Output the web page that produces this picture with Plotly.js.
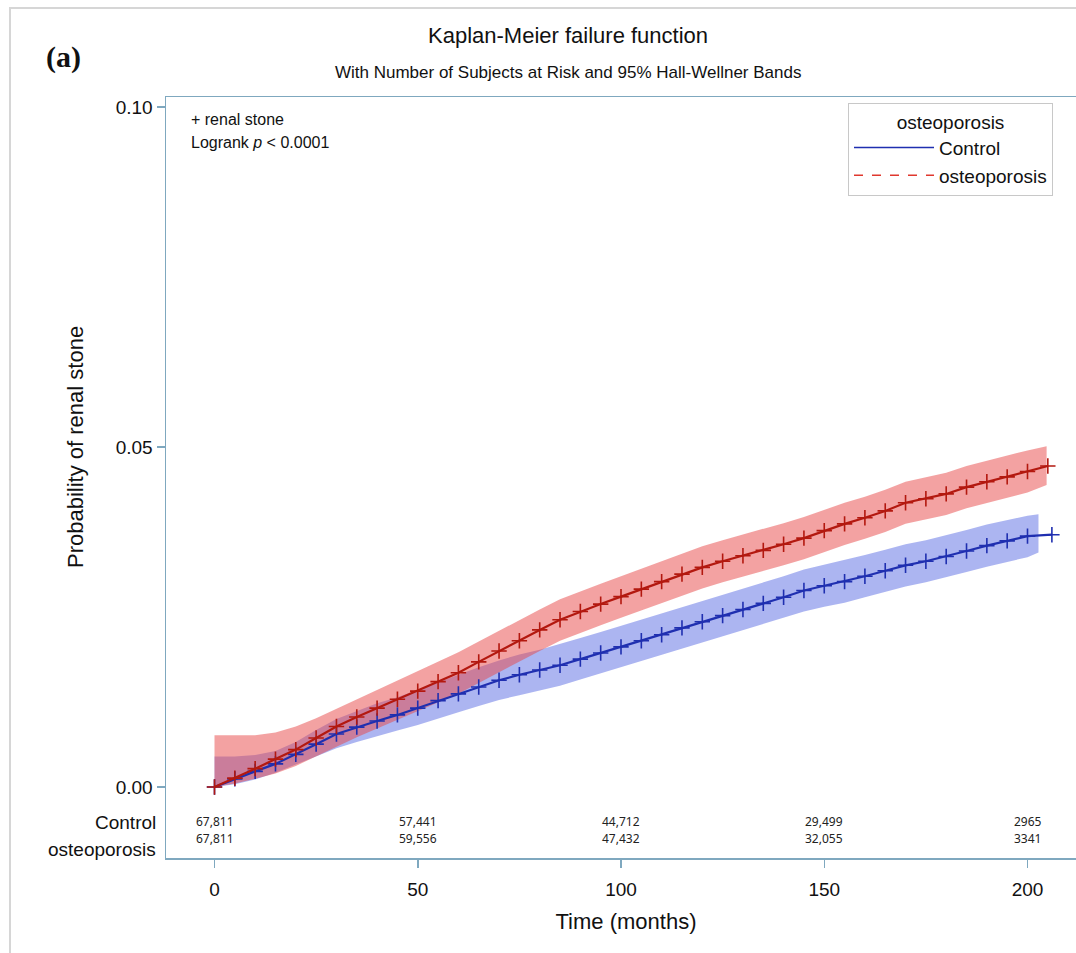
<!DOCTYPE html>
<html>
<head>
<meta charset="utf-8">
<script src="https://cdn.plot.ly/plotly-3.0.1.min.js"></script>
<style>
html,body{margin:0;padding:0;background:#fff;overflow:hidden;}
#chart{width:1090px;height:953px;}
</style>
</head>
<body>
<div id="chart"></div>
<script>
// ---- data ----
var ctlTime = [0,5,10,15,20,25,30,35,40,45,50,55,60,65,70,75,80,85,90,95,100,105,110,115,120,125,130,135,140,145,150,155,160,165,170,175,180,185,190,195,200,206];
var ctlProb = [0,0.0012,0.0023,0.0034,0.0048,0.0063,0.0078,0.0088,0.0097,0.0106,0.0116,0.0127,0.0137,0.0147,0.0157,0.0165,0.0172,0.0179,0.0188,0.0197,0.0206,0.0215,0.0224,0.0234,0.0243,0.0252,0.0261,0.0270,0.0279,0.0289,0.0296,0.0302,0.0310,0.0318,0.0326,0.0332,0.0339,0.0347,0.0355,0.0362,0.0369,0.0371];

var ostTime = [0,5,10,15,20,25,30,35,40,45,50,55,60,65,70,75,80,85,90,95,100,105,110,115,120,125,130,135,140,145,150,155,160,165,170,175,180,185,190,195,200,205];
var ostProb = [0,0.0013,0.0027,0.0041,0.0055,0.0072,0.0089,0.0103,0.0116,0.0129,0.0141,0.0155,0.0168,0.0184,0.0200,0.0215,0.0231,0.0246,0.0258,0.0269,0.0280,0.0291,0.0302,0.0313,0.0323,0.0332,0.0340,0.0348,0.0357,0.0366,0.0377,0.0387,0.0396,0.0406,0.0418,0.0424,0.0431,0.0441,0.0449,0.0456,0.0464,0.0472];

var ctlBandTime = [0,5,10,15,20,25,30,35,40,45,50,55,60,65,70,75,80,85,90,95,100,105,110,115,120,125,130,135,140,145,150,155,160,165,170,175,180,185,190,195,200,202.7];
var ctlUpper = [0.0045,0.0045,0.0047,0.0053,0.0066,0.0084,0.0100,0.0112,0.0123,0.0132,0.0143,0.0155,0.0165,0.0176,0.0186,0.0195,0.0202,0.0210,0.0219,0.0228,0.0237,0.0246,0.0255,0.0265,0.0274,0.0283,0.0292,0.0301,0.0310,0.0320,0.0327,0.0333,0.0341,0.0349,0.0357,0.0363,0.0370,0.0378,0.0386,0.0393,0.0399,0.0401];
var ctlLower = [0,0.0004,0.0011,0.0021,0.0033,0.0045,0.0057,0.0066,0.0075,0.0083,0.0091,0.0101,0.0110,0.0119,0.0128,0.0135,0.0142,0.0149,0.0158,0.0167,0.0176,0.0185,0.0194,0.0203,0.0212,0.0221,0.0230,0.0239,0.0248,0.0258,0.0265,0.0271,0.0279,0.0287,0.0295,0.0301,0.0308,0.0316,0.0324,0.0331,0.0338,0.0345];

var ostBandTime = [0,5,10,15,20,25,30,35,40,45,50,55,60,65,70,75,80,85,90,95,100,105,110,115,120,125,130,135,140,145,150,155,160,165,170,175,180,185,190,195,200,204.7];
var ostUpper = [0.0076,0.0076,0.0076,0.0080,0.0089,0.0101,0.0115,0.0129,0.0143,0.0157,0.0170,0.0184,0.0198,0.0214,0.0230,0.0245,0.0261,0.0276,0.0288,0.0299,0.0310,0.0321,0.0332,0.0343,0.0354,0.0363,0.0371,0.0379,0.0388,0.0397,0.0408,0.0418,0.0427,0.0437,0.0449,0.0455,0.0462,0.0472,0.0480,0.0488,0.0495,0.0501];
var ostLower = [0,0.0005,0.0012,0.0020,0.0031,0.0045,0.0060,0.0073,0.0086,0.0099,0.0111,0.0124,0.0137,0.0153,0.0169,0.0184,0.0200,0.0215,0.0227,0.0238,0.0249,0.0260,0.0271,0.0282,0.0292,0.0301,0.0309,0.0317,0.0326,0.0335,0.0346,0.0356,0.0365,0.0375,0.0387,0.0393,0.0400,0.0410,0.0418,0.0425,0.0433,0.0444];

var riskTimes = [0,50,100,150,200];
var riskControl = ['67,811','57,441','44,712','29,499','2965'];
var riskOsteo = ['67,811','59,556','47,432','32,055','3341'];
var groupNames = ['Control','osteoporosis'];

var xTicks = [0,50,100,150,200];
var yTicks = [0,0.05,0.10];
var yTickText = ['0.00','0.05','0.10'];

// ---- styling ----
var frameColor = '#7fa8bf';
var blue = '#1f2fb0', red = '#b3180f';
var blueFill = 'rgba(70,90,225,0.45)', redFill = 'rgba(232,70,70,0.5)';
var FONT = 'Liberation Sans, Arial, sans-serif';

var traces = [
  {x: ctlBandTime, y: ctlLower, mode:'lines', line:{width:0, color:blueFill}, showlegend:false, hoverinfo:'skip'},
  {x: ctlBandTime, y: ctlUpper, mode:'lines', line:{width:0, color:blueFill}, fill:'tonexty', fillcolor:blueFill, showlegend:false, hoverinfo:'skip'},
  {x: ostBandTime, y: ostLower, mode:'lines', line:{width:0, color:redFill}, showlegend:false, hoverinfo:'skip'},
  {x: ostBandTime, y: ostUpper, mode:'lines', line:{width:0, color:redFill}, fill:'tonexty', fillcolor:redFill, showlegend:false, hoverinfo:'skip'},
  {x: ctlTime, y: ctlProb, mode:'lines+markers', line:{color:blue, width:2.2},
   marker:{symbol:'cross-thin', size:11, line:{color:blue, width:1.6}}, showlegend:false},
  {x: ostTime, y: ostProb, mode:'lines+markers', line:{color:red, width:2.2},
   marker:{symbol:'cross-thin', size:11, line:{color:red, width:1.6}}, showlegend:false},
  // legend entries
  {x:[null], y:[null], mode:'lines', name:groupNames[0], line:{color:blue, width:1.5}},
  {x:[null], y:[null], mode:'lines', name:groupNames[1], line:{color:'#e0382e', width:1.5, dash:'dash'}}
];

// pixel helpers (plot area: x 166..1086, y 97..858)
var L = 166, R = 1086, T = 97, B = 858;
function px(xPix){ return (xPix - L) / (R - L); }
function py(yPix){ return (B - yPix) / (B - T); }
function yv(yPix){ return (787 - yPix) / 6800; }

var annotations = [
  {text:'Kaplan-Meier failure function', xref:'paper', yref:'paper', x:px(568), y:py(35), xanchor:'center', yanchor:'middle', showarrow:false, font:{family:FONT, size:22, color:'#111'}},
  {text:'With Number of Subjects at Risk and 95% Hall-Wellner Bands', xref:'paper', yref:'paper', x:px(568), y:py(72), xanchor:'center', yanchor:'middle', showarrow:false, font:{family:FONT, size:17, color:'#111'}},
  {text:'<b>(a)</b>', xref:'paper', yref:'paper', x:px(63), y:py(57), xanchor:'center', yanchor:'middle', showarrow:false, font:{family:'Liberation Serif, Times New Roman, serif', size:30, color:'#111'}},
  {text:'Probability of renal stone', xref:'paper', yref:'y', x:px(75), y:0.05, xanchor:'center', yanchor:'middle', textangle:-90, showarrow:false, font:{family:FONT, size:22, color:'#111'}},
  {text:'+ renal stone', xref:'paper', yref:'paper', x:px(189), y:py(120), xanchor:'left', yanchor:'middle', showarrow:false, font:{family:FONT, size:16, color:'#111'}},
  {text:'Logrank <i>p</i> < 0.0001', xref:'paper', yref:'paper', x:px(189), y:py(143), xanchor:'left', yanchor:'middle', showarrow:false, font:{family:FONT, size:16, color:'#111'}},
  {text:groupNames[0], xref:'paper', yref:'y', x:px(158), y:yv(822), xanchor:'right', yanchor:'middle', showarrow:false, font:{family:FONT, size:19, color:'#111'}},
  {text:groupNames[1], xref:'paper', yref:'y', x:px(158), y:yv(849), xanchor:'right', yanchor:'middle', showarrow:false, font:{family:FONT, size:19, color:'#111'}}
];
for (var i = 0; i < riskTimes.length; i++) {
  annotations.push({text:riskControl[i], x:riskTimes[i], y:yv(821), xref:'x', yref:'y', xanchor:'center', yanchor:'middle', showarrow:false, font:{family:'Noto Sans, DejaVu Sans, sans-serif', size:12, color:'#222'}});
  annotations.push({text:riskOsteo[i], x:riskTimes[i], y:yv(838), xref:'x', yref:'y', xanchor:'center', yanchor:'middle', showarrow:false, font:{family:'Noto Sans, DejaVu Sans, sans-serif', size:12, color:'#222'}});
}

var layout = {
  width:1090, height:953,
  margin:{l:L, r:1090-R, t:T, b:953-B, pad:0},
  paper_bgcolor:'#fff', plot_bgcolor:'#fff',
  font:{family:FONT, color:'#111'},
  xaxis:{
    range:[(L-214.5)/4.065, (R-214.5)/4.065],
    tickvals:xTicks, ticks:'outside', ticklen:8, tickwidth:1.5, tickcolor:frameColor,
    showline:true, mirror:true, linecolor:frameColor, linewidth:1.5,
    showgrid:false, zeroline:false, tickfont:{family:FONT, size:19, color:'#111'},
    ticklabelstandoff:6,
    title:{text:'Time (months)', font:{family:FONT, size:22, color:'#111'}, standoff:14},
    automargin:false
  },
  yaxis:{
    range:[yv(B), yv(T)],
    tickvals:yTicks, ticktext:yTickText, ticks:'outside', ticklen:8, tickwidth:1.5, tickcolor:frameColor,
    showline:true, mirror:true, linecolor:frameColor, linewidth:1.5,
    showgrid:false, zeroline:false, tickfont:{family:FONT, size:19, color:'#111'},
    automargin:false
  },
  legend:{
    x:px(848), y:py(103), xanchor:'left', yanchor:'top',
    bgcolor:'#fff', bordercolor:'#c8c8c8', borderwidth:1,
    font:{family:FONT, size:19, color:'#111'},
    title:{text:'osteoporosis', side:'top center', font:{family:FONT, size:19, color:'#111'}},
    itemwidth:80, tracegroupgap:0, traceorder:'normal'
  },
  shapes:[
    {type:'rect', xref:'paper', yref:'paper', x0:px(10), x1:px(1200), y0:py(1000), y1:py(8), line:{color:'#d6d6d6', width:2}, fillcolor:'rgba(0,0,0,0)', layer:'below'}
  ],
  annotations:annotations,
  showlegend:true
};

Plotly.newPlot('chart', traces, layout, {displayModeBar:false, staticPlot:true});
</script>
</body>
</html>
